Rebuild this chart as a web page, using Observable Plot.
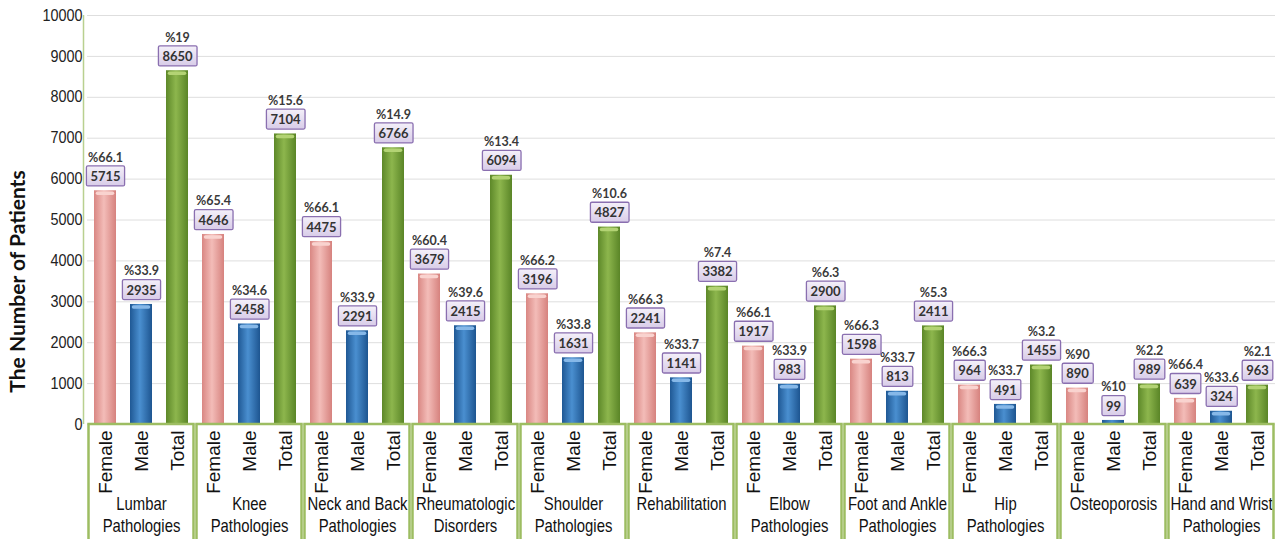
<!DOCTYPE html>
<html><head><meta charset="utf-8">
<script src="https://cdn.jsdelivr.net/npm/d3@7"></script>
<script src="https://cdn.jsdelivr.net/npm/@observablehq/plot@0.6"></script>
<style>
body{margin:0;background:#fff;}
#chart{width:1280px;height:539px;overflow:hidden;}
</style></head><body><div id="chart"></div>
<script>
const groups = ["Lumbar Pathologies","Knee Pathologies","Neck and Back Pathologies","Rheumatologic Disorders","Shoulder Pathologies","Rehabilitation","Elbow Pathologies","Foot and Ankle Pathologies","Hip Pathologies","Osteoporosis","Hand and Wrist Pathologies"];
const groupLabels = ["Lumbar\nPathologies","Knee\nPathologies","Neck and Back\nPathologies","Rheumatologic\nDisorders","Shoulder\nPathologies","Rehabilitation","Elbow\nPathologies","Foot and Ankle\nPathologies","Hip\nPathologies","Osteoporosis","Hand and Wrist\nPathologies"];
const sexes = ["Female","Male","Total"];
const female = [5715,4646,4475,3679,3196,2241,1917,1598,964,890,639];
const male = [2935,2458,2291,2415,1631,1141,983,813,491,99,324];
const total = [8650,7104,6766,6094,4827,3382,2900,2411,1455,989,963];
const femalePct = ["66.1","65.4","66.1","60.4","66.2","66.3","66.1","66.3","66.3","90","66.4"];
const malePct = ["33.9","34.6","33.9","39.6","33.8","33.7","33.9","33.7","33.7","10","33.6"];
const totalPct = ["19","15.6","14.9","13.4","10.6","7.4","6.3","5.3","3.2","2.2","2.1"];
const yTicks = [0,1000,2000,3000,4000,5000,6000,7000,8000,9000,10000];
const yTitle = "The Number of Patients";

const rows = groups.flatMap((g, i) => [
  {group: g, sex: "Female", value: female[i], pct: femalePct[i]},
  {group: g, sex: "Male", value: male[i], pct: malePct[i]},
  {group: g, sex: "Total", value: total[i], pct: totalPct[i]}
]);
const colors = {Female: "url(#gFemale)", Male: "url(#gMale)", Total: "url(#gTotal)"};
const capColors = {Female: "#f9d3cf", Male: "#86b8e8", Total: "#b3d374"};

const plot = Plot.plot({
  width: 1280, height: 539,
  marginLeft: 83, marginRight: 2, marginTop: 15, marginBottom: 115,
  style: {fontFamily: "'Liberation Sans',Arial,sans-serif", background: "white", overflow: "visible"},
  fx: {domain: groups, padding: 0, label: null},
  x: {domain: sexes, paddingInner: 0.4, paddingOuter: 0.2, label: null},
  y: {domain: [0, 10000], label: null},
  marks: [
    Plot.ruleY(yTicks, {stroke: "#dedede", strokeWidth: 1}),
    ...sexes.map(s => Plot.barY(rows.filter(d => d.sex === s), {fx: "group", x: "sex", y: "value", fill: colors[s]})),
    ...sexes.map(s => Plot.tickY(rows.filter(d => d.sex === s && d.value > 300), {fx: "group", x: "sex", y: "value", stroke: capColors[s], strokeWidth: 3.5, strokeLinecap: "round", insetLeft: 3.5, insetRight: 3.5, dy: 2.5})),
    Plot.text(rows, {fx: "group", x: "sex", y: "value", text: d => "%" + d.pct, dy: -33, fontSize: 12.5, fontWeight: 700, fontFamily: "Lato, 'Open Sans', sans-serif", fill: "#3a3a3a"}),
    Plot.text(rows, {fx: "group", x: "sex", y: "value", text: d => String(d.value), dy: -14, fontSize: 13, fontWeight: 700, fontFamily: "Lato, 'Open Sans', sans-serif", fill: "#333", className: "vlabel"}),
    Plot.axisY({ticks: yTicks, tickFormat: d => String(d), tickSize: 0, tickPadding: 5, fontSize: 16, fill: "#222", label: null, className: "yaxis"}),
    Plot.axisX({tickRotate: -90, tickSize: 0, tickPadding: 6, fontSize: 19, fill: "#111", label: null}),
    Plot.axisFx({anchor: "bottom", tickSize: 0, tickPadding: 70, fontSize: 17.5, lineHeight: 1.25, fill: "#111", tickFormat: g => groupLabels[groups.indexOf(g)], label: null, className: "fxaxis"})
  ]
});
document.getElementById("chart").append(plot);

const svg = d3.select(plot);
svg.insert("defs", ":first-child").html(`
  <linearGradient id="gFemale" x1="0" x2="1" y1="0" y2="0">
    <stop offset="0" stop-color="#d98783"/><stop offset="0.45" stop-color="#f3bcb8"/><stop offset="1" stop-color="#d6827e"/>
  </linearGradient>
  <linearGradient id="gMale" x1="0" x2="1" y1="0" y2="0">
    <stop offset="0" stop-color="#1f5894"/><stop offset="0.45" stop-color="#4a8fd0"/><stop offset="1" stop-color="#1d5590"/>
  </linearGradient>
  <linearGradient id="gTotal" x1="0" x2="1" y1="0" y2="0">
    <stop offset="0" stop-color="#5d8829"/><stop offset="0.45" stop-color="#8db64d"/><stop offset="1" stop-color="#5a8527"/>
  </linearGradient>
  <linearGradient id="gBox" x1="0" x2="0" y1="0" y2="1">
    <stop offset="0" stop-color="#f4f0f9"/><stop offset="1" stop-color="#d8cce8"/>
  </linearGradient>`);

// condense the category labels horizontally (narrow typeface look)
function condense(sel, k) {
  sel.each(function() {
    const t = this.getAttribute("transform");
    if (t) this.setAttribute("transform", t + ` scale(${k},1)`);
  });
}
condense(svg.selectAll(".fxaxis text"), 0.85);
condense(svg.selectAll(".yaxis text"), 0.9);

// label boxes behind value texts
svg.selectAll(".vlabel text").each(function() {
  const b = this.getBBox();
  const w = b.width + 8, h = 20;
  d3.select(this.parentNode).insert("rect", () => this)
    .attr("transform", this.getAttribute("transform"))
    .attr("x", b.x + b.width / 2 - w / 2).attr("y", b.y + b.height / 2 - h / 2)
    .attr("width", w).attr("height", h).attr("rx", 1.5)
    .attr("fill", "url(#gBox)").attr("stroke", "#8a6fb0").attr("stroke-width", 1.3);
});

// category boxes and left axis line
const fx = plot.scale("fx"), y = plot.scale("y");
const y0 = y.apply(0), yTop = y.apply(10000);
const deco = svg.append("g");
groups.forEach(g => {
  const x0 = fx.apply(g);
  deco.append("rect").attr("x", x0 + 1.5).attr("y", y0).attr("width", fx.bandwidth - 3).attr("height", 539 - y0 + 4)
    .attr("fill", "none").attr("stroke", "#9dbd62").attr("stroke-width", 2.5);
});
deco.append("line").attr("x1", 83.5).attr("x2", 83.5).attr("y1", yTop).attr("y2", y0).attr("stroke", "#b9d08f").attr("stroke-width", 1.5);
deco.append("text").attr("transform", `translate(20,${(yTop + y0) / 2 + 62}) rotate(-90)`)
  .attr("text-anchor", "middle").attr("dominant-baseline", "middle")
  .attr("font-family", "Lato, 'Open Sans', sans-serif").attr("font-weight", 700).attr("font-size", 21).attr("fill", "#111")
  .text(yTitle);
</script>
</body></html>
